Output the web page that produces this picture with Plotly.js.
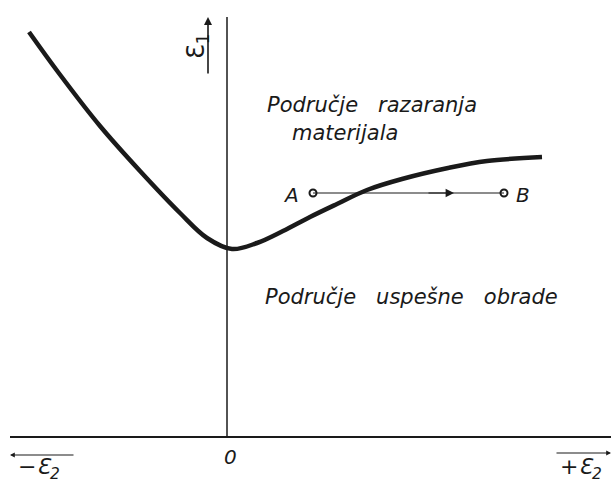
<!DOCTYPE html>
<html><head><meta charset="utf-8">
<script src="https://cdn.plot.ly/plotly-3.0.1.min.js"></script>
<style>html,body{margin:0;padding:0;background:#fff}</style>
</head><body>
<div id="chart" style="width:611px;height:485px"></div>
<script>
// Boundary curve (ε2 on x, ε1 on y, arbitrary units)
const eps2 = [-1.98, -1.69, -1.27, -0.87, -0.47, -0.20, 0.05, 0.30, 0.56, 0.83, 1.10, 1.40, 1.75, 2.21, 2.60, 3.15];
const eps1 = [4.05, 3.65, 3.11, 2.66, 2.24, 1.99, 1.88, 1.94, 2.06, 2.20, 2.33, 2.47, 2.58, 2.69, 2.76, 2.80];
// Path A -> B
const pathX = [0.86, 2.77];
const pathY = [2.44, 2.44];
const pathLabels = ["A", "B"];
const regionTop = ["Područje&nbsp;&nbsp;&nbsp;razaranja", "materijala"];
const regionBottom = "Područje&nbsp;&nbsp;&nbsp;uspešne&nbsp;&nbsp;&nbsp;obrade";

const ink = "#1a1a1a";
const fnt = {family: "DejaVu Sans, sans-serif", size: 21, color: ink, style: "italic"};

const traces = [
  {x: eps2, y: eps1, mode: "lines", line: {color: ink, width: 4.5, shape: "spline", smoothing: 1}, hoverinfo: "skip"},
  {x: pathX, y: pathY, mode: "lines+markers", line: {color: ink, width: 1.2},
   marker: {symbol: "circle-open", size: 7, color: ink, line: {width: 2, color: ink}}, hoverinfo: "skip"}
];

const ann = [
  // path labels
  {x: pathX[0], y: pathY[0], xshift: -22, yshift: -2, text: pathLabels[0], showarrow: false, font: {...fnt, size: 20}},
  {x: pathX[1], y: pathY[1], xshift: 19, yshift: -2, text: pathLabels[1], showarrow: false, font: {...fnt, size: 20}},
  // arrow head on path
  {x: 2.27, y: pathY[0], ax: 2.0, ay: pathY[0], axref: "x", ayref: "y", text: "", showarrow: true,
   arrowhead: 2, arrowsize: 1.4, arrowwidth: 1.2, arrowcolor: ink},
  // region texts
  {x: 0.38, y: 3.32, text: regionTop[0], showarrow: false, xanchor: "left", font: fnt},
  {x: 0.63, y: 3.04, text: regionTop[1], showarrow: false, xanchor: "left", font: fnt},
  {x: 0.36, y: 1.40, text: regionBottom, showarrow: false, xanchor: "left", font: fnt},
  // ε1 axis label + arrow
  {x: -0.30, y: 3.90, text: "Ɛ<sub>1</sub>", textangle: -90, showarrow: false,
   font: {family: "DejaVu Sans, sans-serif", size: 24, color: ink}},
  {x: -0.19, y: 4.20, ax: -0.19, ay: 3.62, axref: "x", ayref: "y", text: "", showarrow: true,
   arrowhead: 2, arrowsize: 1, arrowwidth: 1.6, arrowcolor: ink},
  // bottom labels
  {x: 0.03, y: -0.20, text: "0", showarrow: false, font: {...fnt, size: 20}},
  {x: -1.88, y: -0.31, text: "−Ɛ<sub>2</sub>", showarrow: false, font: {family: "DejaVu Sans, sans-serif", size: 22, color: ink, style: "italic"}},
  {x: 3.54, y: -0.31, text: "+Ɛ<sub>2</sub>", showarrow: false, font: {family: "DejaVu Sans, sans-serif", size: 22, color: ink, style: "italic"}},
  {x: -2.17, y: -0.18, ax: -1.52, ay: -0.18, axref: "x", ayref: "y", text: "", showarrow: true,
   arrowhead: 2, arrowsize: 0.8, arrowwidth: 1.2, arrowcolor: ink},
  {x: 3.84, y: -0.16, ax: 3.28, ay: -0.16, axref: "x", ayref: "y", text: "", showarrow: true,
   arrowhead: 2, arrowsize: 0.8, arrowwidth: 1.2, arrowcolor: ink}
];

const shapes = [
  {type: "line", xref: "x", yref: "y", x0: -2.17, x1: 3.84, y0: 0, y1: 0, line: {color: ink, width: 2}},
  {type: "line", xref: "x", yref: "y", x0: 0, x1: 0, y0: 0, y1: 4.20, line: {color: ink, width: 1.5}}
];

const layout = {
  width: 611, height: 485,
  margin: {l: 0, r: 0, t: 0, b: 0},
  paper_bgcolor: "#fff", plot_bgcolor: "#fff",
  showlegend: false,
  xaxis: {range: [-2.27, 3.84], visible: false, fixedrange: true},
  yaxis: {range: [-0.48, 4.37], visible: false, fixedrange: true},
  annotations: ann, shapes: shapes
};
Plotly.newPlot("chart", traces, layout, {displayModeBar: false, staticPlot: true});
</script>
</body></html>
